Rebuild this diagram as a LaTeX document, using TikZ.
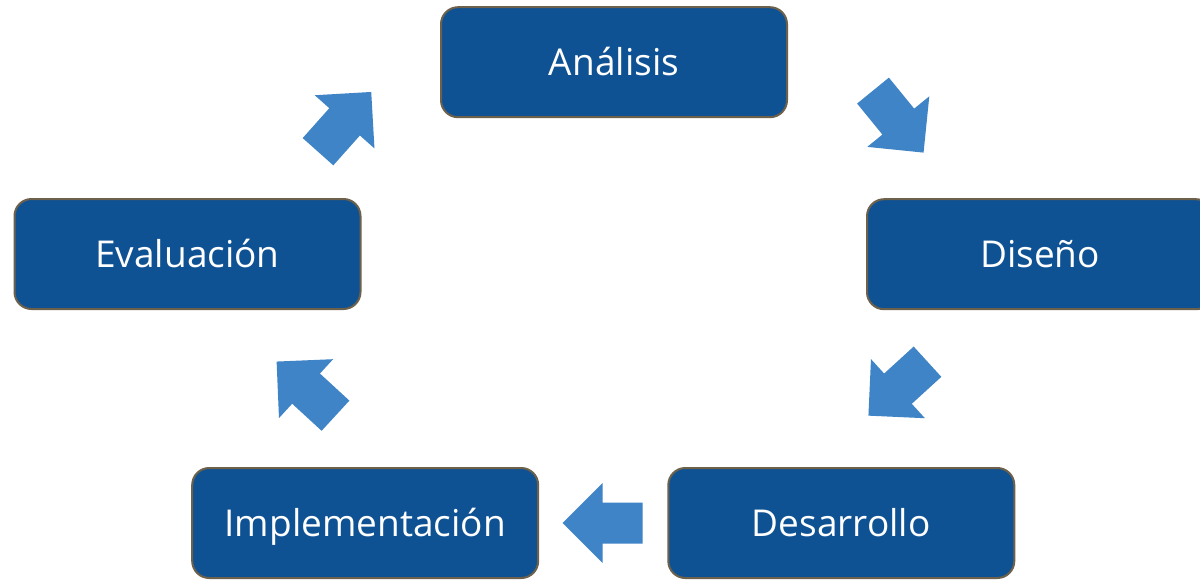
\documentclass[tikz,border=0pt]{standalone}
\usepackage{fontspec}
\setmainfont{Open Sans}
\definecolor{boxfill}{RGB}{15,82,148}
\definecolor{boxline}{RGB}{110,97,76}
\definecolor{arrowfill}{RGB}{62,132,198}
\tikzset{
  stage/.style={draw=boxline, line width=2pt, fill=boxfill, rounded corners=17pt,
    minimum width=346pt, minimum height=110pt, inner sep=0pt, text=white,
    text height=26.7pt, text depth=0pt,
    font=\fontsize{37}{44}\selectfont},
  blockarrow/.pic={
    \fill[arrowfill] (0,20.5) -- (40,20.5) -- (40,40) -- (80,0) -- (40,-40) -- (40,-20.5) -- (0,-20.5) -- cycle;
  }
}
\begin{document}
\begin{tikzpicture}[x=1pt,y=1pt]
\clip (0,0) rectangle (1200,-579);
\fill[white] (0,0) rectangle (1200,-579);
\node[stage] (analisis) at (614,-62.2) {Análisis};
\node[stage] (diseno) at (1040,-254.2) {Diseño};
\node[stage] (desarrollo) at (841.3,-523) {Desarrollo};
\node[stage] (implementacion) at (365.2,-523) {Implementación};
\node[stage] (evaluacion) at (187.5,-254) {Evaluación};
\path (873,-90.6) pic[rotate=-50.8] {blockarrow};
\path (927.5,-361.7) pic[rotate=222.4] {blockarrow};
\path (642.7,-523) pic[rotate=180] {blockarrow};
\path (335.5,-415.7) pic[rotate=137.4] {blockarrow};
\path (318,-151.7) pic[rotate=48.3] {blockarrow};
\end{tikzpicture}
\end{document}
